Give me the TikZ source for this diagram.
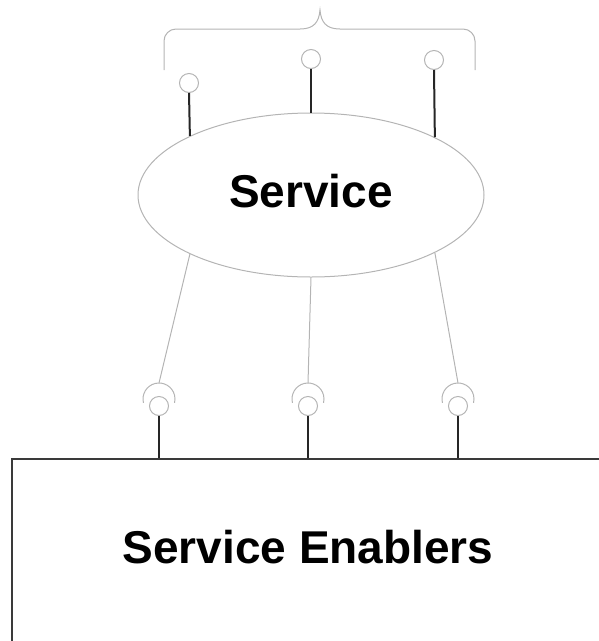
\documentclass[tikz,border=0pt]{standalone}
\usepackage{fontspec}
\setmainfont{Liberation Sans}
\usetikzlibrary{shapes.geometric,calc}
\definecolor{thin}{HTML}{B4B4B4}
\definecolor{frame}{HTML}{3A3A3A}
\tikzset{
  x=1pt, y=1pt,
  soft/.style={draw=thin, line width=1pt},
  stick/.style={draw=black!85, line width=2pt},
  pin/.style={circle, soft, minimum size=19pt, inner sep=0pt},
  socket/.style={soft},
  bigtext/.style={font=\fontsize{46}{50}\selectfont\bfseries, inner sep=0pt},
}
\begin{document}
\begin{tikzpicture}
  \useasboundingbox (0,0) rectangle (599,-641);
  \clip (0,0) rectangle (599,-641);

  % the service and its provided interfaces
  \node[ellipse, soft, minimum width=346pt, minimum height=164pt, inner sep=0pt,
        bigtext, text depth=9pt] (svc) at (311,-195) {Service};
  \node[pin] (p1) at (189,-83) {};
  \node[pin] (p2) at (311,-59) {};
  \node[pin] (p3) at (434,-60) {};
  \draw[stick] (svc.154.6) -- (p1.south);
  \draw[stick] (svc.90) -- (p2.south);
  \draw[stick] (svc.25.2) -- (p3.south);

  % brace grouping the provided interfaces
  \draw[soft] (164,-70) -- (164,-41) arc[start angle=180, end angle=90, radius=12]
    -- (300,-29) .. controls (314,-29) and (319,-22) .. (320,-10)
    .. controls (321,-22) and (326,-29) .. (340,-29)
    -- (463,-29) arc[start angle=90, end angle=0, radius=12] -- (475,-70);

  % the enabler block
  \node[draw=frame, line width=2pt, anchor=north west, minimum width=700pt,
        minimum height=300pt, inner sep=0pt] (enab) at (11,-458) {};
  \node[bigtext] (enabtext) at (308,-547.5) {Service Enablers};

  % provided interfaces of the enablers, with sockets
  \foreach \i/\x in {1/159, 2/308, 3/458} {
    \node[pin] (c\i) at (\x,-406) {};
    \coordinate (s\i) at (\x,-383);
    \draw[socket] ($(c\i.center)+(194:16)+(0,7)$)
      arc[start angle=194, end angle=-14, radius=16];
    \draw[stick] (c\i.south) -- (c\i.south |- enab.north);
  }

  % required links from the service down to the sockets
  \draw[soft] (svc.-154.6) -- (s1);
  \draw[soft] (svc.-90) -- (s2);
  \draw[soft] (svc.-25.2) -- (s3);
\end{tikzpicture}
\end{document}
